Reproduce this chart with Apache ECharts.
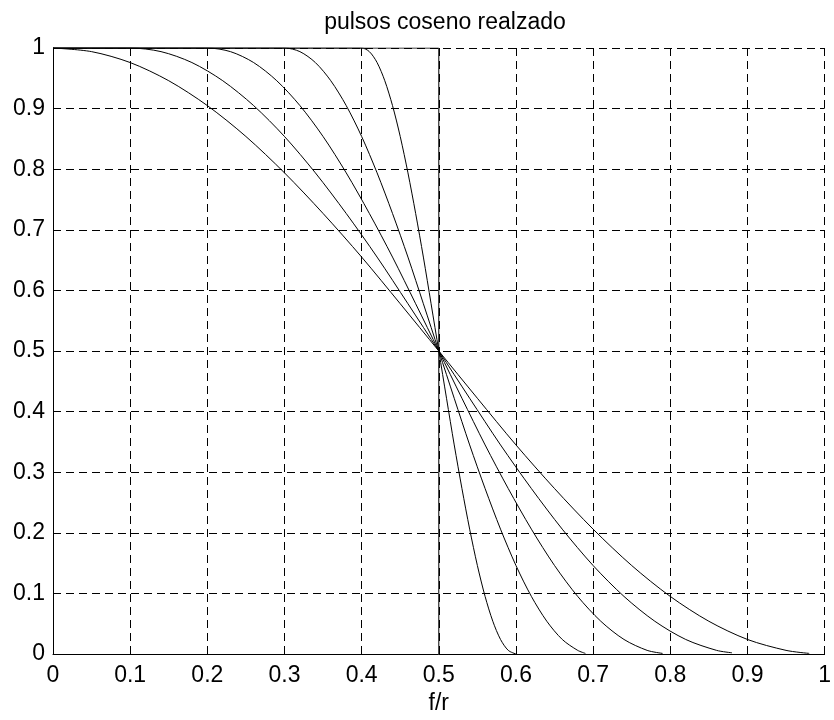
<!DOCTYPE html>
<html>
<head>
<meta charset="utf-8">
<title>pulsos coseno realzado</title>
<script src="https://cdn.jsdelivr.net/npm/echarts@6/dist/echarts.min.js"></script>
<style>
  html, body { margin: 0; padding: 0; background: #fff; }
  #main { width: 834px; height: 720px; }
</style>
</head>
<body>
<div id="main"></div>
<script>
// valores (f/r normalizada, amplitud)
var xTicks = [0, 0.1, 0.2, 0.3, 0.4, 0.5, 0.6, 0.7, 0.8, 0.9, 1];
var yTicks = [0, 0.1, 0.2, 0.3, 0.4, 0.5, 0.6, 0.7, 0.8, 0.9, 1];

// pulso ideal (roll-off 0)
var fIdeal = [0, 0.5, 0.5];
var hIdeal = [1, 1, 0];

// roll-off 0.2
var fRoll02 = [0, 0.40, 0.41, 0.42, 0.43, 0.44, 0.45, 0.46, 0.47, 0.48, 0.49, 0.50,
               0.51, 0.52, 0.53, 0.54, 0.55, 0.56, 0.57, 0.58, 0.59, 0.60];
var hRoll02 = [1, 1.000, 0.994, 0.976, 0.946, 0.905, 0.854, 0.794, 0.727, 0.655, 0.578, 0.500,
               0.422, 0.345, 0.273, 0.206, 0.146, 0.095, 0.054, 0.024, 0.006, 0.000];

// roll-off 0.4
var fRoll04 = [0, 0.30, 0.32, 0.34, 0.36, 0.38, 0.40, 0.42, 0.44, 0.46, 0.48, 0.50,
               0.52, 0.54, 0.56, 0.58, 0.60, 0.62, 0.64, 0.66, 0.68, 0.69];
var hRoll04 = [1, 1.000, 0.994, 0.976, 0.946, 0.905, 0.854, 0.794, 0.727, 0.655, 0.578, 0.500,
               0.422, 0.345, 0.273, 0.206, 0.146, 0.095, 0.054, 0.024, 0.006, 0.001];

// roll-off 0.6
var fRoll06 = [0, 0.20, 0.23, 0.26, 0.29, 0.32, 0.35, 0.38, 0.41, 0.44, 0.47, 0.50,
               0.53, 0.56, 0.59, 0.62, 0.65, 0.68, 0.71, 0.74, 0.77, 0.79];
var hRoll06 = [1, 1.000, 0.994, 0.976, 0.946, 0.905, 0.854, 0.794, 0.727, 0.655, 0.578, 0.500,
               0.422, 0.345, 0.273, 0.206, 0.146, 0.095, 0.054, 0.024, 0.006, 0.001];

// roll-off 0.8
var fRoll08 = [0, 0.10, 0.14, 0.18, 0.22, 0.26, 0.30, 0.34, 0.38, 0.42, 0.46, 0.50,
               0.54, 0.58, 0.62, 0.66, 0.70, 0.74, 0.78, 0.82, 0.86, 0.88];
var hRoll08 = [1, 1.000, 0.994, 0.976, 0.946, 0.905, 0.854, 0.794, 0.727, 0.655, 0.578, 0.500,
               0.422, 0.345, 0.273, 0.206, 0.146, 0.095, 0.054, 0.024, 0.006, 0.002];

// roll-off 1
var fRoll10 = [0.00, 0.05, 0.10, 0.15, 0.20, 0.25, 0.30, 0.35, 0.40, 0.45, 0.50,
               0.55, 0.60, 0.65, 0.70, 0.75, 0.80, 0.85, 0.90, 0.95, 0.98];
var hRoll10 = [1.000, 0.994, 0.976, 0.946, 0.905, 0.854, 0.794, 0.727, 0.655, 0.578, 0.500,
               0.422, 0.345, 0.273, 0.206, 0.146, 0.095, 0.054, 0.024, 0.006, 0.001];

var curves = [
  [fIdeal, hIdeal, false],
  [fRoll02, hRoll02, true],
  [fRoll04, hRoll04, true],
  [fRoll06, hRoll06, true],
  [fRoll08, hRoll08, true],
  [fRoll10, hRoll10, true]
];

function pairs(fs, hs) {
  return fs.map(function (f, i) { return [f, hs[i]]; });
}

var FONT = 'Liberation Sans, Arial, sans-serif';

var myChart = echarts.init(document.getElementById('main'), null, { renderer: 'canvas' });

var gridLine = {
  show: true,
  lineStyle: { color: '#000', width: 1, type: [8, 5] }
};

myChart.setOption({
  animation: false,
  backgroundColor: '#fff',
  title: {
    text: 'pulsos coseno realzado',
    left: 440,
    textAlign: 'center',
    top: 6,
    textStyle: { fontFamily: FONT, fontSize: 23, fontWeight: 'normal', color: '#000' }
  },
  grid: { left: 53, right: 7, top: 48, bottom: 63 },
  xAxis: {
    type: 'value',
    min: xTicks[0],
    max: xTicks[xTicks.length - 1],
    interval: 0.1,
    name: 'f/r',
    nameLocation: 'middle',
    nameGap: 38,
    nameTextStyle: { fontFamily: FONT, fontSize: 23, color: '#000' },
    axisLine: { show: true, onZero: false, lineStyle: { color: '#000', width: 1 } },
    axisTick: { show: true, inside: true, length: 5, lineStyle: { color: '#000' } },
    axisLabel: {
      margin: 10,
      fontFamily: FONT, fontSize: 23, color: '#000',
      formatter: function (v) { return String(Math.round(v * 10) / 10); }
    },
    splitLine: gridLine
  },
  yAxis: {
    type: 'value',
    min: yTicks[0],
    max: yTicks[yTicks.length - 1],
    interval: 0.1,
    axisLine: { show: true, onZero: false, lineStyle: { color: '#000', width: 1 } },
    axisTick: { show: true, inside: true, length: 5, lineStyle: { color: '#000' } },
    axisLabel: {
      margin: 8,
      fontFamily: FONT, fontSize: 23, color: '#000',
      formatter: function (v) { return String(Math.round(v * 10) / 10); }
    },
    splitLine: gridLine
  },
  series: curves.map(function (c) {
    return {
      type: 'line',
      data: pairs(c[0], c[1]),
      showSymbol: false,
      symbol: 'none',
      smooth: c[2] ? 0.3 : false,
      lineStyle: { color: '#000', width: 1 },
      z: 3
    };
  })
});
</script>
</body>
</html>
